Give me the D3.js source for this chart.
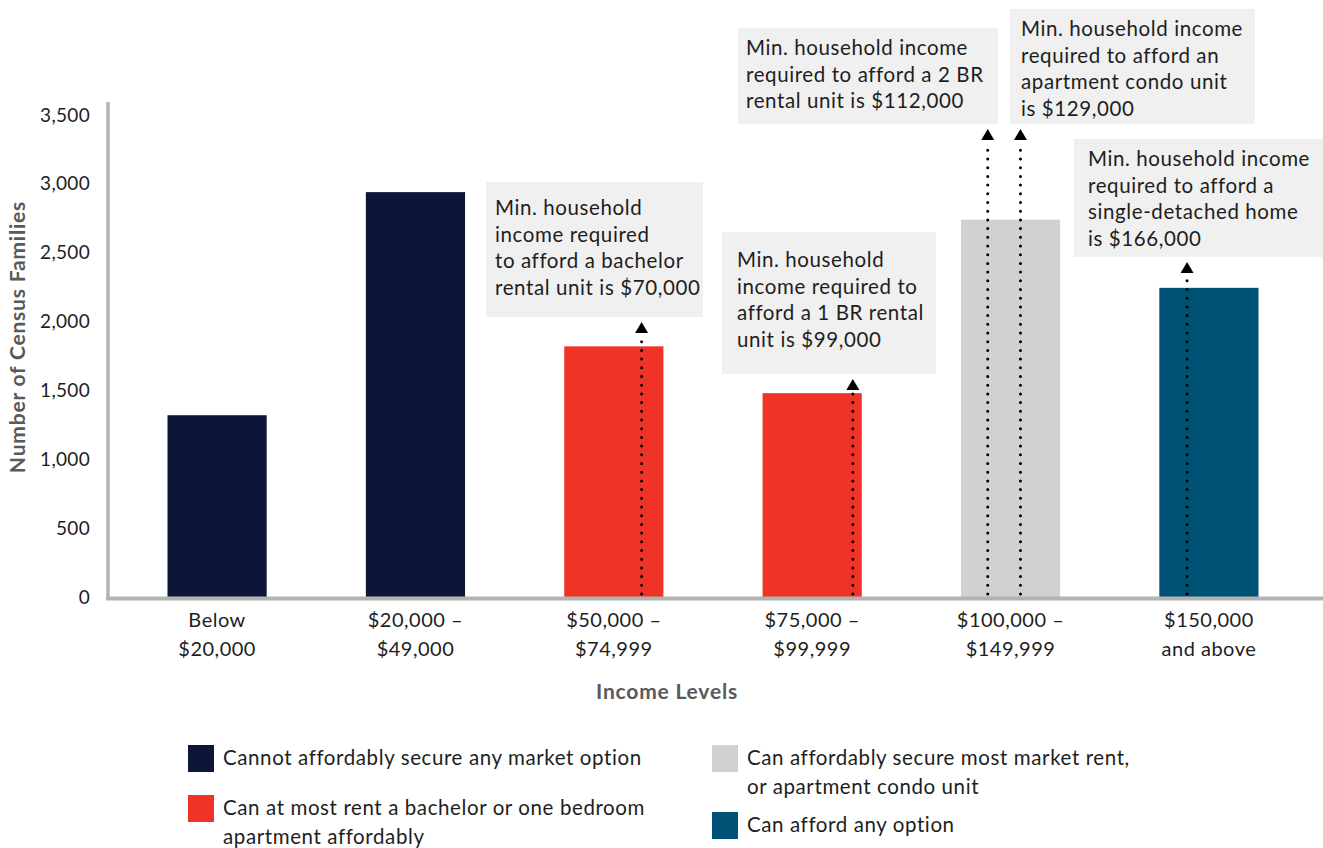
<!DOCTYPE html>
<html>
<head>
<meta charset="utf-8">
<script src="https://cdn.jsdelivr.net/npm/d3@7"></script>
<style>
  body { margin: 0; background: #fff; }
  svg { display: block; font-family: Lato, 'Open Sans', sans-serif; }
</style>
</head>
<body>
<div id="chart"></div>
<script>
// income levels bar chart with affordability notes

const categories = [
  ['Below', '$20,000'],
  ['$20,000 –', '$49,000'],
  ['$50,000 –', '$74,999'],
  ['$75,000 –', '$99,999'],
  ['$100,000 –', '$149,999'],
  ['$150,000', 'and above']
]
const families = [1320, 2940, 1820, 1480, 2740, 2245]
const groupOf = [0, 0, 1, 1, 2, 3] // legend group of each bar

const yTicks = [0, 500, 1000, 1500, 2000, 2500, 3000, 3500]

const legendLabels = [
  ['Cannot affordably secure any market option'],
  ['Can at most rent a bachelor or one bedroom', 'apartment affordably'],
  ['Can affordably secure most market rent,', 'or apartment condo unit'],
  ['Can afford any option']
]

// notes: text lines and the bar they point into
const noteLines = [
  ['Min. household', 'income required', 'to afford a bachelor', 'rental unit is $70,000'],
  ['Min. household', 'income required to', 'afford a 1 BR rental', 'unit is $99,000'],
  ['Min. household income', 'required to afford a 2 BR', 'rental unit is $112,000'],
  ['Min. household income', 'required to afford an', 'apartment condo unit', 'is $129,000'],
  ['Min. household income', 'required to afford a', 'single-detached home', 'is $166,000']
]
const noteBar = [2, 3, 4, 4, 5]

// layout only (not data)
const colors = ['#0c1638', '#ef3326', '#d1d1d1', '#005275']
const noteLayout = [
  { x: 486, y: 182, w: 217, h: 135, frac: 0.78, tx: 9, ty: 33 },
  { x: 722, y: 232, w: 214, h: 142, frac: 0.91, tx: 15, ty: 35 },
  { x: 738, y: 28, w: 260, h: 96, frac: 0.27, tx: 8, ty: 27 },
  { x: 1010, y: 9, w: 245, h: 115, frac: 0.60, tx: 11, ty: 27 },
  { x: 1074, y: 139, w: 260, h: 118, frac: 0.28, tx: 14, ty: 27 }
]
const lineGap = 26.7
const bodyFont = { size: 20.5, spacing: 0.6 }

const width = 1323
const height = 848

const svg = d3.select('#chart').append('svg')
  .attr('width', width).attr('height', height)

const x = d3.scaleBand()
  .domain(d3.range(categories.length))
  .range([108, 1318])
  .paddingInner(0.5)
  .paddingOuter(0.3)

const y = d3.scaleLinear().domain([0, 3500]).range([597, 115])

// y axis ticks
const yg = svg.append('g').attr('transform', 'translate(90,0)')
yg.call(d3.axisLeft(y).tickValues(yTicks).tickSize(0).tickFormat(d3.format(',')))
yg.select('.domain').remove()
yg.selectAll('text')
  .attr('x', 0)
  .style('font-family', 'Lato, sans-serif')
  .style('font-size', '19px')
  .style('letter-spacing', '0.3px')
  .attr('fill', '#1e1e1e')

// bars
svg.append('g').selectAll('rect')
  .data(families)
  .join('rect')
  .attr('x', (d, i) => x(i))
  .attr('width', x.bandwidth())
  .attr('y', d => y(d))
  .attr('height', d => y(0) - y(d))
  .attr('fill', (d, i) => colors[groupOf[i]])

// axis lines
svg.append('line')
  .attr('x1', 108).attr('x2', 108)
  .attr('y1', 102).attr('y2', y(0) + 3)
  .attr('stroke', '#b3b3b3').attr('stroke-width', 3.5)
svg.append('line')
  .attr('x1', 106).attr('x2', width)
  .attr('y1', y(0) + 1.5).attr('y2', y(0) + 1.5)
  .attr('stroke', '#b3b3b3').attr('stroke-width', 4)

// x tick labels
const xl = svg.append('g').selectAll('text')
  .data(categories)
  .join('text')
  .attr('text-anchor', 'middle')
  .attr('font-size', 20)
  .attr('letter-spacing', 0.5)
  .attr('fill', '#1e1e1e')
  .attr('transform', (d, i) => 'translate(' + (x(i) + x.bandwidth() / 2) + ',627)')
xl.selectAll('tspan')
  .data(d => d)
  .join('tspan')
  .attr('x', 0)
  .attr('y', (d, i) => i * 29)
  .text(d => d)

// axis titles
svg.append('text')
  .attr('x', 667).attr('y', 699)
  .attr('text-anchor', 'middle')
  .attr('font-size', 21).attr('font-weight', 'bold')
  .attr('letter-spacing', 0.8)
  .attr('fill', '#595959')
  .text('Income Levels')
svg.append('text')
  .attr('transform', 'translate(25,337) rotate(-90)')
  .attr('text-anchor', 'middle')
  .attr('font-size', 21).attr('font-weight', 'bold')
  .attr('letter-spacing', 0.8)
  .attr('fill', '#595959')
  .text('Number of Census Families')

// notes
const ng = svg.append('g')
noteLines.forEach((lines, i) => {
  const L = noteLayout[i]
  const g = ng.append('g')
  g.append('rect')
    .attr('x', L.x).attr('y', L.y)
    .attr('width', L.w).attr('height', L.h)
    .attr('fill', '#f0f0f0')
  g.append('text')
    .attr('font-size', bodyFont.size)
    .attr('letter-spacing', bodyFont.spacing)
    .attr('fill', '#1e1e1e')
    .selectAll('tspan')
    .data(lines)
    .join('tspan')
    .attr('x', L.x + L.tx)
    .attr('y', (d, j) => L.y + L.ty + j * lineGap)
    .text(d => d)

  // dotted arrow from bar base up to the note
  const ax = x(noteBar[i]) + L.frac * x.bandwidth()
  const tip = L.y + L.h + 5
  g.append('line')
    .attr('x1', ax).attr('x2', ax)
    .attr('y1', y(0) - 3).attr('y2', tip + 13)
    .attr('stroke', '#000')
    .attr('stroke-width', 3)
    .attr('stroke-linecap', 'round')
    .attr('stroke-dasharray', '0 8.7')
  g.append('path')
    .attr('d', 'M' + ax + ',' + tip + 'L' + (ax + 6.5) + ',' + (tip + 11) + 'L' + (ax - 6.5) + ',' + (tip + 11) + 'Z')
    .attr('fill', '#000')
})

// legend
const legendPos = [
  { x: 188, y: 745 },
  { x: 188, y: 795 },
  { x: 712, y: 745 },
  { x: 712, y: 812 }
]
const lg = svg.append('g')
legendLabels.forEach((lines, i) => {
  const p = legendPos[i]
  lg.append('rect')
    .attr('x', p.x).attr('y', p.y)
    .attr('width', 26).attr('height', 27)
    .attr('fill', colors[i])
  lg.append('text')
    .attr('font-size', bodyFont.size)
    .attr('letter-spacing', bodyFont.spacing)
    .attr('fill', '#1e1e1e')
    .selectAll('tspan')
    .data(lines)
    .join('tspan')
    .attr('x', p.x + 35)
    .attr('y', (d, j) => p.y + 20 + j * 29)
    .text(d => d)
})
</script>
</body>
</html>
